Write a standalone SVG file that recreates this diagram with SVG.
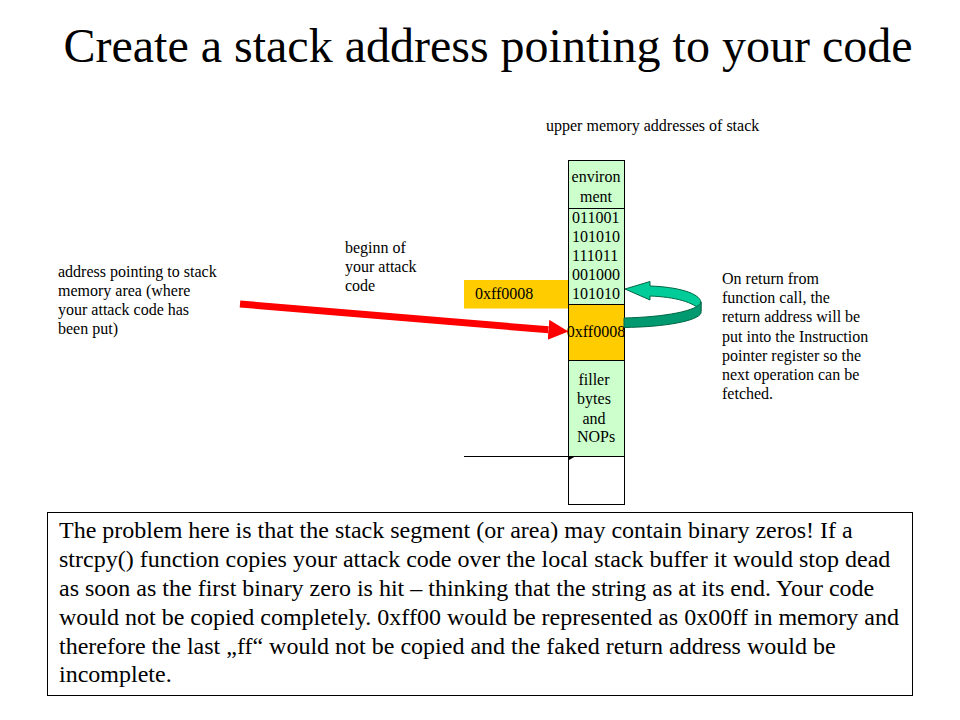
<svg xmlns="http://www.w3.org/2000/svg" width="960" height="720" viewBox="0 0 960 720">
<style>
text{font-family:"Liberation Serif","Times New Roman",serif;fill:#000}
.s{font-size:16px}
.b{font-size:24px}
.t{font-size:48px}
.cell{stroke:#000;stroke-width:1}
</style>
<defs>
<marker id="redHead" markerUnits="userSpaceOnUse" markerWidth="22" markerHeight="22" refX="0" refY="10" orient="auto" viewBox="0 0 22 22">
<path d="M0,0 L20,10 L0,20 Z" fill="#ff0000"/>
</marker>
</defs>
<rect width="960" height="720" fill="#fff"/>
<text class="t" x="488" y="62" text-anchor="middle">Create a stack address pointing to your code</text>

<g id="label-upper">
<text class="s" x="546" y="131">upper memory addresses of stack</text>
</g>

<g id="stack">
<rect class="cell" x="568.5" y="160.5" width="56" height="144" fill="#ccffcc"/>
<line class="cell" x1="568.5" y1="208.5" x2="624.5" y2="208.5"/>
<rect class="cell" x="568.5" y="304.5" width="56" height="56" fill="#ffcc00"/>
<rect class="cell" x="568.5" y="360.5" width="56" height="96" fill="#ccffcc"/>
<rect class="cell" x="568.5" y="456.5" width="56" height="48" fill="#fff"/>
<text class="s" x="596" y="182" text-anchor="middle">environ</text>
<text class="s" x="596" y="202" text-anchor="middle">ment</text>
<text class="s" x="572" y="222.5">011001</text>
<text class="s" x="572" y="241.5">101010</text>
<text class="s" x="572" y="260.5">111011</text>
<text class="s" x="572" y="279.5">001000</text>
<text class="s" x="572" y="298.5">101010</text>
<text class="s" x="596" y="337" text-anchor="middle">0xff0008</text>
<text class="s" x="594" y="385" text-anchor="middle">filler</text>
<text class="s" x="594" y="404" text-anchor="middle">bytes</text>
<text class="s" x="594" y="423.5" text-anchor="middle">and</text>
<text class="s" x="596" y="442" text-anchor="middle">NOPs</text>
</g>

<g id="addr-box">
<rect x="464" y="280" width="104" height="28.5" fill="#ffcc00"/>
<text class="s" x="475" y="299">0xff0008</text>
</g>

<g id="label-address">
<text class="s" x="58" y="276.5">address pointing to stack</text>
<text class="s" x="58" y="295.7">memory area (where</text>
<text class="s" x="58" y="314.9">your attack code has</text>
<text class="s" x="58" y="334.1">been put)</text>
</g>

<g id="label-begin">
<text class="s" x="345" y="252.5">beginn of</text>
<text class="s" x="345" y="271.7">your attack</text>
<text class="s" x="345" y="290.9">code</text>
</g>

<g id="label-return">
<text class="s" x="722" y="284">On return from</text>
<text class="s" x="722" y="303.2">function call, the</text>
<text class="s" x="722" y="322.4">return address will be</text>
<text class="s" x="722" y="341.6">put into the Instruction</text>
<text class="s" x="722" y="360.8">pointer register so the</text>
<text class="s" x="722" y="380">next operation can be</text>
<text class="s" x="722" y="399.2">fetched.</text>
</g>

<g id="connectors">
<line x1="240" y1="304" x2="548.5" y2="329.8" stroke="#ff0000" stroke-width="7" marker-end="url(#redHead)"/>
<line x1="464" y1="456.5" x2="569" y2="456.5" stroke="#000" stroke-width="1"/>
<path d="M569,456 L576,456 L569,460 Z" fill="#000"/>
<path d="M625,289 L650,281.5 L650,286 C678,287 699,293 701,302 L701,311 C694,302 675,297 650,296 L650,300 Z" fill="#00cc99" stroke="#006644" stroke-width="1"/>
<path d="M624,318 C665,317 698,311 701,302 L701,313 C698,321 665,327 624,327.5 Z" fill="#009970" stroke="#006644" stroke-width="1"/>
</g>

<g id="note">
<rect x="47.5" y="512.5" width="865" height="183" fill="#fff" stroke="#000" stroke-width="1"/>
<text class="b" x="59" y="538">The problem here is that the stack segment (or area) may contain binary zeros! If a</text>
<text class="b" x="59" y="567">strcpy() function copies your attack code over the local stack buffer it would stop dead</text>
<text class="b" x="59" y="596">as soon as the first binary zero is hit – thinking that the string as at its end. Your code</text>
<text class="b" x="59" y="625">would not be copied completely. 0xff00 would be represented as 0x00ff in memory and</text>
<text class="b" x="59" y="653.5">therefore the last „ff“ would not be copied and the faked return address would be</text>
<text class="b" x="59" y="682">incomplete.</text>
</g>
</svg>
